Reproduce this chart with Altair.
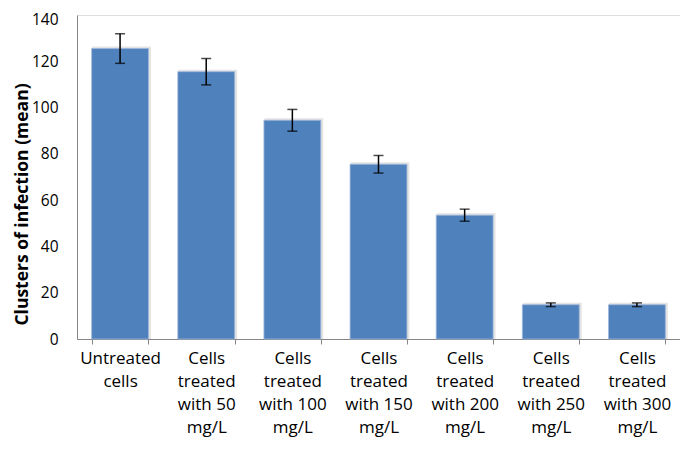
import altair as alt
import pandas as pd

categories = [
    "Untreated\ncells",
    "Cells\ntreated\nwith 50\nmg/L",
    "Cells\ntreated\nwith 100\nmg/L",
    "Cells\ntreated\nwith 150\nmg/L",
    "Cells\ntreated\nwith 200\nmg/L",
    "Cells\ntreated\nwith 250\nmg/L",
    "Cells\ntreated\nwith 300\nmg/L",
]
means = [125.5, 115.5, 94.5, 75.5, 53.5, 14.8, 14.8]
errors = [6.4, 5.7, 4.7, 3.8, 2.6, 0.8, 0.8]
y_ticks = [0, 20, 40, 60, 80, 100, 120, 140]

df = pd.DataFrame({"cat": categories, "mean": means, "err": errors})
df["lo"] = df["mean"] - df["err"]
df["hi"] = df["mean"] + df["err"]

FONT = "Open Sans"
AXIS_GRAY = "#868686"

x = alt.X(
    "cat:N",
    sort=categories,
    scale=alt.Scale(paddingInner=0.34, paddingOuter=0.17),
    axis=alt.Axis(
        title=None,
        labelAngle=0,
        labelExpr="isValid(datum.value) ? split(datum.value, '\\n') : ''",
        labelFontSize=17,
        labelLineHeight=23,
        labelPadding=6,
        labelColor="#000000",
        labelFont=FONT,
        domainColor=AXIS_GRAY,
        tickColor=AXIS_GRAY,
        tickBand="extent",
        tickSize=5,
        labelBaseline="top",
    ),
)

y_axis = alt.Axis(
    title="Clusters of infection (mean)",
    titleFont=FONT,
    titleFontSize=17.5,
    titleFontWeight="bold",
    titleColor="#000000",
    titleAngle=-90,
    titleX=-55,
    titleY=189,
    titleAlign="center",
    titleBaseline="middle",
    values=y_ticks,
    grid=False,
    ticks=False,
    labelPadding=19,
    labelFontSize=15.5,
    labelFont=FONT,
    labelColor="#000000",
    labelOffset={"condition": {"test": "datum.value == 140", "value": 4}, "value": 0},
    domainColor=AXIS_GRAY,
)

base = alt.Chart(df)

shadow = base.mark_bar(color="#d8d8d8", xOffset=1.5, yOffset=-1, stroke="#e4e4e4", strokeWidth=2).encode(
    x=x,
    y=alt.Y("mean:Q", scale=alt.Scale(domain=[0, 140], nice=False), axis=y_axis),
)

bars = base.mark_bar(color="#4F81BD", stroke="#9fb8da", strokeWidth=0.8).encode(
    x=x,
    y=alt.Y("mean:Q"),
)

rule = base.mark_rule(color="#000000", strokeWidth=1.5).encode(
    x=x, y="lo:Q", y2="hi:Q"
)
cap_lo = base.mark_tick(color="#000000", size=10, thickness=1.5).encode(x=x, y="lo:Q")
cap_hi = base.mark_tick(color="#000000", size=10, thickness=1.5).encode(x=x, y="hi:Q")

chart = (
    alt.layer(shadow, bars, rule, cap_lo, cap_hi)
    .properties(
        width=603,
        height=324,
        autosize=alt.AutoSizeParams(type="none"),
        padding={"left": 69, "top": 7, "right": 0, "bottom": 104},
    )
    .configure_view(stroke=None)
    .configure(font=FONT)
)

chart.save("out.html", embed_options={"renderer": "svg", "actions": False})
